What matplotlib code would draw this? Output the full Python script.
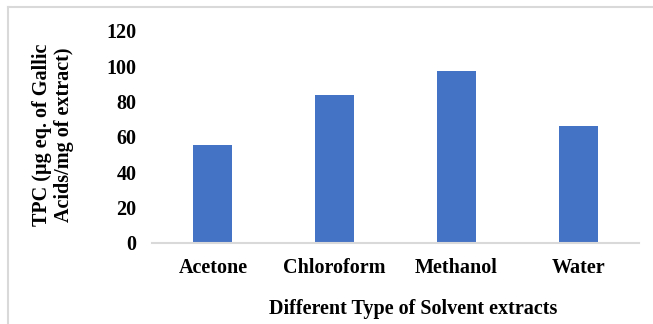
import matplotlib
matplotlib.use("Agg")
import matplotlib.pyplot as plt
from matplotlib.lines import Line2D

categories = ["Acetone", "Chloroform", "Methanol", "Water"]
values = [55.3, 83.7, 97.3, 66.2]
yticks = [0, 20, 40, 60, 80, 100, 120]

W, H = 653, 324
fig = plt.figure(figsize=(W / 100, H / 100), dpi=100)
plt.rcParams['font.family'] = ['Liberation Serif', 'DejaVu Serif']
FS = 14.5

left, right, bottom, top = 152, 639, 243, 31
ax = fig.add_axes([left / W, 1 - bottom / H, (right - left) / W, (bottom - top) / H])

x = range(len(categories))
ax.bar(x, values, width=0.32, color="#4472C4", zorder=2)
ax.set_xlim(-0.5, len(categories) - 0.5)
ax.set_ylim(0, 120)
ax.set_yticks(yticks)
ax.set_yticklabels([str(t) for t in yticks], fontsize=FS, fontweight="bold")
ax.set_xticks(list(x))
ax.set_xticklabels(categories, fontsize=FS, fontweight="bold")
ax.tick_params(axis="y", length=0, pad=11)
ax.tick_params(axis="x", length=0, pad=11)
for s in ["top", "right", "left"]:
    ax.spines[s].set_visible(False)
ax.spines["bottom"].set_color("#D9D9D9")
ax.spines["bottom"].set_linewidth(1.5)
ax.spines["bottom"].set_zorder(3)

fig.text(413 / W, 1 - 309 / H, "Different Type of Solvent extracts",
         ha="center", va="center", fontsize=FS, fontweight="bold")
fig.text(53 / W, 1 - 135 / H, "TPC (µg eq. of Gallic\nAcids/mg of extract)",
         ha="center", va="center", rotation=90, fontsize=FS, fontweight="bold",
         linespacing=1.15, multialignment="center")

# outer chart border (cropped at right/bottom)
fig.add_artist(Line2D([8 / W, 1], [1 - 7 / H, 1 - 7 / H], color="#D9D9D9", lw=1.5,
                      transform=fig.transFigure))
fig.add_artist(Line2D([8 / W, 8 / W], [1 - 7 / H, 0], color="#D9D9D9", lw=1.5,
                      transform=fig.transFigure))

fig.savefig("out.png", dpi=100)
